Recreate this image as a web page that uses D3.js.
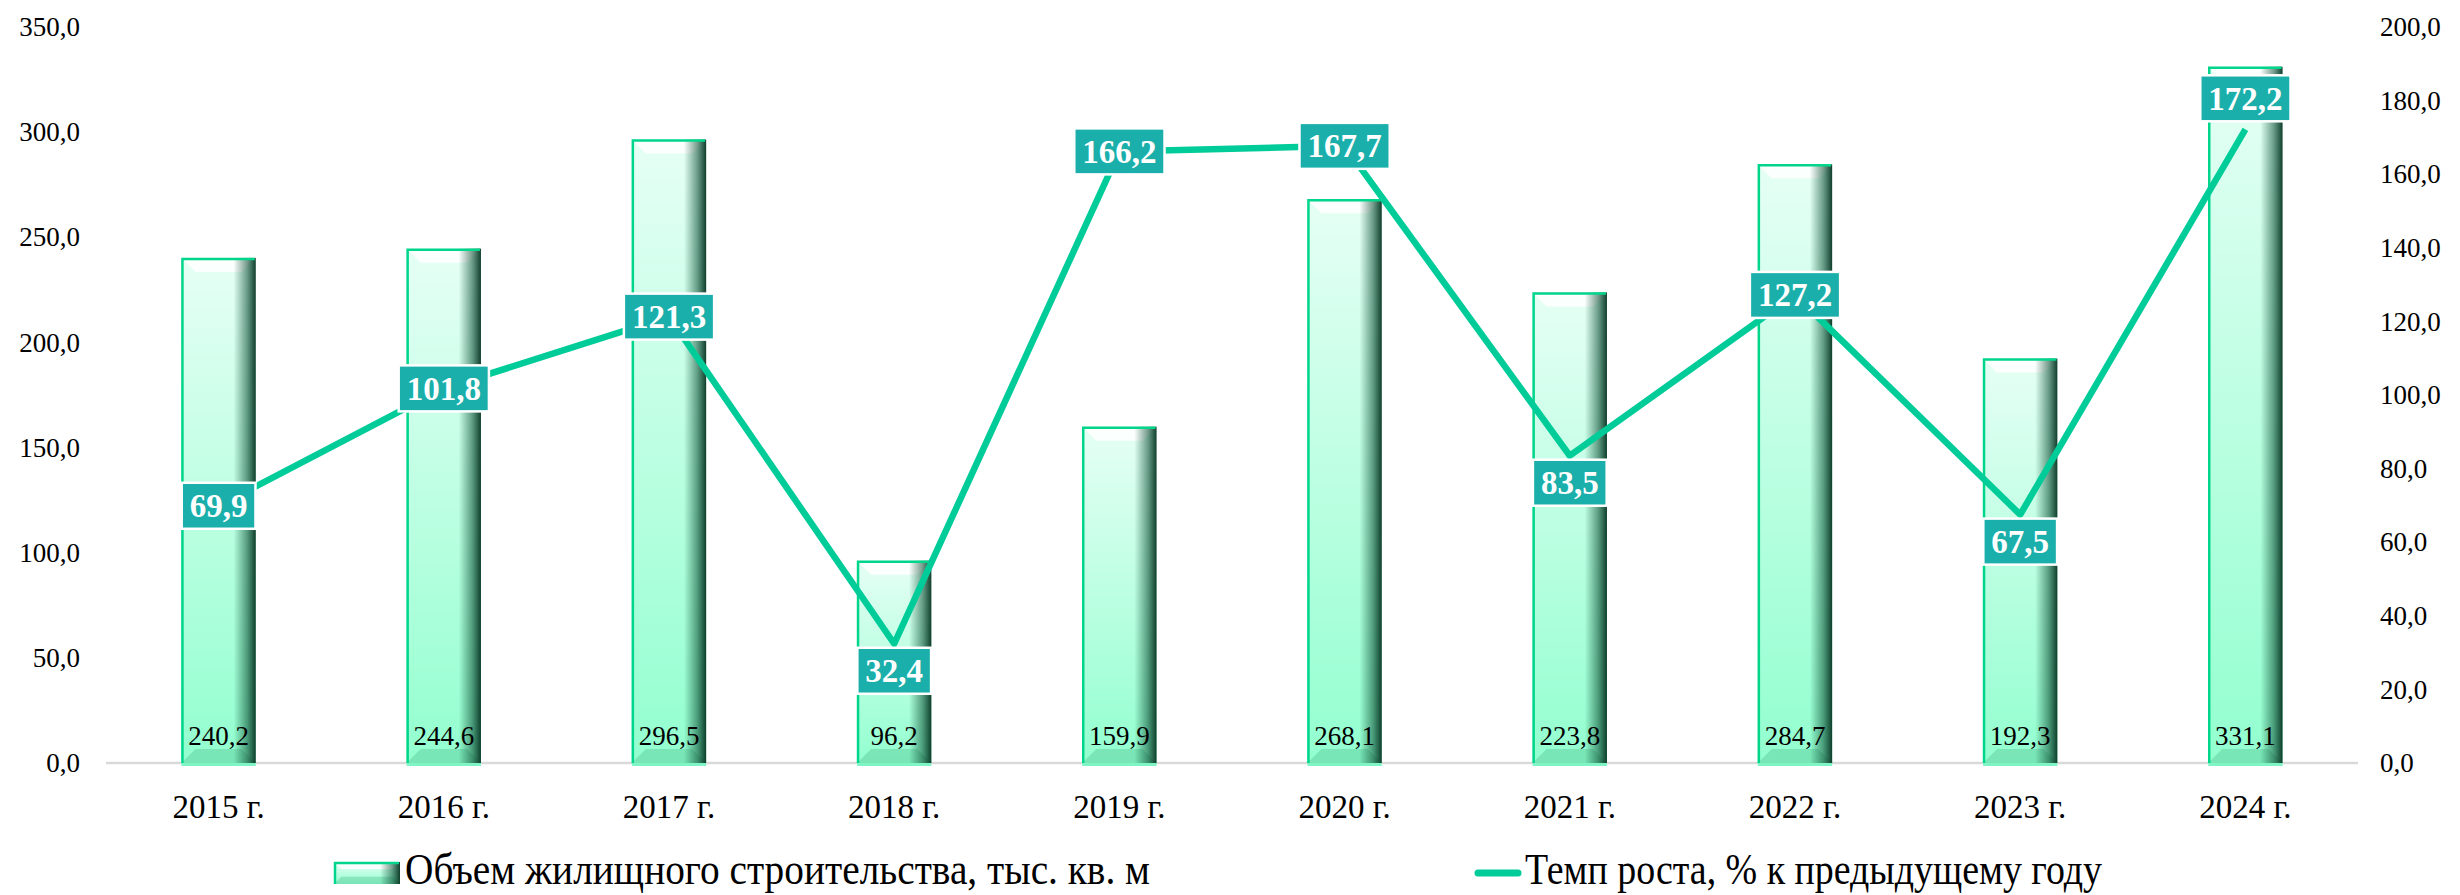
<!DOCTYPE html>
<html>
<head>
<meta charset="utf-8">
<script src="https://cdn.jsdelivr.net/npm/d3@7"></script>
<style>
	body { margin: 0; background: #fff; }
	svg { display: block; font-family: "Liberation Serif", "Times New Roman", serif; }
</style>
</head>
<body>
<div id="chart"></div>
<script>
var years = ["2015 г.", "2016 г.", "2017 г.", "2018 г.", "2019 г.", "2020 г.", "2021 г.", "2022 г.", "2023 г.", "2024 г."];
var volume = [240.2, 244.6, 296.5, 96.2, 159.9, 268.1, 223.8, 284.7, 192.3, 331.1];
var growth = [69.9, 101.8, 121.3, 32.4, 166.2, 167.7, 83.5, 127.2, 67.5, 172.2];
var leftTicks = [0, 50, 100, 150, 200, 250, 300, 350];
var rightTicks = [0, 20, 40, 60, 80, 100, 120, 140, 160, 180, 200];
var legendNames = ["Объем жилищного строительства, тыс. кв. м", "Темп роста, % к предыдущему году"];

var margin = {top: 27, right: 102, left: 106, bottom: 132},
		width = 2460 - margin.left - margin.right,
		height = 895 - margin.top - margin.bottom;

var lineColor = "#00cc99",
		boxColor = "#1aafaa";

var fmt = function(v) { return d3.format(".1f")(v).replace(".", ","); };

var x = d3.scaleBand()
		.domain(years)
		.range([0, width])
		.paddingInner(0.67)
		.paddingOuter(0.335);

var y = d3.scaleLinear()
		.domain([0, 350])
		.range([height, 0]);

var y2 = d3.scaleLinear()
		.domain([0, 200])
		.range([height, 0]);

var svg = d3.select("div#chart").append("svg")
		.attr("width", width + margin.left + margin.right)
		.attr("height", height + margin.top + margin.bottom);

var defs = svg.append("defs");

var body = defs.append("linearGradient")
		.attr("id", "barBody")
		.attr("x1", 0).attr("y1", 0).attr("x2", 0).attr("y2", 1);
body.append("stop").attr("offset", "0%").attr("stop-color", "#e6fff5");
body.append("stop").attr("offset", "100%").attr("stop-color", "#92ffcf");

var side = defs.append("linearGradient")
		.attr("id", "barSide")
		.attr("x1", 0).attr("y1", 0).attr("x2", 1).attr("y2", 0);
side.append("stop").attr("offset", "0%").attr("stop-color", "#0b4d33").attr("stop-opacity", 0);
side.append("stop").attr("offset", "70%").attr("stop-color", "#0b4d33").attr("stop-opacity", 0);
side.append("stop").attr("offset", "88%").attr("stop-color", "#0b4d33").attr("stop-opacity", 0.55);
side.append("stop").attr("offset", "100%").attr("stop-color", "#063321").attr("stop-opacity", 0.95);

var g = svg.append("g")
		.attr("transform", "translate(" + margin.left + "," + margin.top + ")");

// beveled bar, drawn in the given box
function bevelBar(sel, bx, by, bw, bh) {
	var b = Math.min(14, bh / 3);
	sel.append("rect")
		.attr("x", bx).attr("y", by).attr("width", bw).attr("height", bh)
		.attr("fill", "url(#barBody)");
	sel.append("path")
		.attr("d", "M" + bx + "," + by + "L" + (bx + bw) + "," + by + "L" + (bx + bw - b) + "," + (by + b) + "L" + (bx + b) + "," + (by + b) + "Z")
		.attr("fill", "#ffffff").attr("opacity", 0.85);
	sel.append("path")
		.attr("d", "M" + bx + "," + (by + bh) + "L" + (bx + bw) + "," + (by + bh) + "L" + (bx + bw - b) + "," + (by + bh - b) + "L" + (bx + b) + "," + (by + bh - b) + "Z")
		.attr("fill", "#2a9a6a").attr("opacity", 0.25);
	sel.append("rect")
		.attr("x", bx).attr("y", by).attr("width", bw).attr("height", bh)
		.attr("fill", "url(#barSide)");
	sel.append("path")
		.attr("d", "M" + (bx + 1) + "," + (by + bh) + "L" + (bx + 1) + "," + (by + 1) + "L" + (bx + bw - 1) + "," + (by + 1))
		.attr("fill", "none").attr("stroke", "#00d58c").attr("stroke-width", 2.5);
}

// axis baseline
g.append("line")
	.attr("x1", 0).attr("x2", width)
	.attr("y1", height).attr("y2", height)
	.attr("stroke", "#d9d9d9").attr("stroke-width", 2.5);

// bars
var bars = g.selectAll("g.bar")
		.data(volume)
		.enter()
		.append("g")
		.attr("class", "bar");

bars.each(function(d, i) {
	bevelBar(d3.select(this), x(years[i]), y(d), x.bandwidth(), height - y(d));
	d3.select(this).append("rect")
		.attr("x", x(years[i])).attr("y", height).attr("width", x.bandwidth()).attr("height", 3)
		.attr("fill", "#7ff5c6");
});

bars.append("text")
	.attr("x", function(d, i) { return x(years[i]) + x.bandwidth() / 2; })
	.attr("y", height - 18)
	.attr("text-anchor", "middle")
	.attr("font-size", 27)
	.attr("fill", "#000")
	.text(function(d) { return fmt(d); });

// axes
var yAxis = d3.axisLeft(y).tickValues(leftTicks).tickSize(0).tickPadding(26).tickFormat(fmt);
var y2Axis = d3.axisRight(y2).tickValues(rightTicks).tickSize(0).tickPadding(22).tickFormat(fmt);
var xAxis = d3.axisBottom(x).tickSize(0).tickPadding(32);

g.append("g").attr("class", "y axis").call(yAxis);
g.append("g").attr("class", "y2 axis").attr("transform", "translate(" + width + ",0)").call(y2Axis);
g.append("g").attr("class", "x axis").attr("transform", "translate(0," + height + ")").call(xAxis);

g.selectAll(".axis .domain").remove();
g.selectAll(".axis text")
	.attr("font-family", "Liberation Serif, Times New Roman, serif")
	.attr("font-size", 27)
	.attr("fill", "#000");
g.selectAll(".x.axis text").attr("font-size", 33);

// growth line
var line = d3.line()
		.x(function(d, i) { return x(years[i]) + x.bandwidth() / 2; })
		.y(function(d) { return y2(d); });

g.append("path")
	.datum(growth)
	.attr("fill", "none")
	.attr("stroke", lineColor)
	.attr("stroke-width", 6.5)
	.attr("stroke-linejoin", "round")
	.attr("d", line);

// growth labels: local minima below, last point above, others centred
var labels = g.selectAll("g.lbl")
		.data(growth)
		.enter()
		.append("g")
		.attr("class", "lbl");

labels.each(function(d, i) {
	var cx = x(years[i]) + x.bandwidth() / 2,
			cy = y2(d),
			lg = d3.select(this);
	var t = lg.append("text")
		.attr("text-anchor", "middle")
		.attr("font-size", 33)
		.attr("font-weight", "bold")
		.attr("fill", "#fff")
		.text(fmt(d));
	var bb = t.node().getBBox();
	var bw = bb.width + 16, bh = 46;
	var isMin = i > 0 && i < growth.length - 1 && d < growth[i - 1] && d < growth[i + 1];
	var boxCy = cy;
	if (isMin) boxCy = cy + 4 + bh / 2;
	if (i === growth.length - 1) boxCy = cy - 8 - bh / 2;
	lg.insert("rect", "text")
		.attr("x", cx - bw / 2).attr("y", boxCy - bh / 2)
		.attr("width", bw).attr("height", bh)
		.attr("fill", boxColor)
		.attr("stroke", "#fff").attr("stroke-width", 2.5);
	t.attr("x", cx).attr("y", boxCy + 11.5);
});

// legend
var leg = svg.append("g").attr("class", "legend");

bevelBar(leg.append("g"), 334, 862, 66, 22);
leg.append("text")
	.attr("x", 405).attr("y", 884)
	.attr("font-size", 44)
	.attr("textLength", 745)
	.attr("lengthAdjust", "spacingAndGlyphs")
	.text(legendNames[0]);

leg.append("line")
	.attr("x1", 1478).attr("x2", 1518)
	.attr("y1", 873).attr("y2", 873)
	.attr("stroke", lineColor).attr("stroke-width", 7)
	.attr("stroke-linecap", "round");
leg.append("text")
	.attr("x", 1525).attr("y", 884)
	.attr("font-size", 44)
	.attr("textLength", 577)
	.attr("lengthAdjust", "spacingAndGlyphs")
	.text(legendNames[1]);
</script>
</body>
</html>
